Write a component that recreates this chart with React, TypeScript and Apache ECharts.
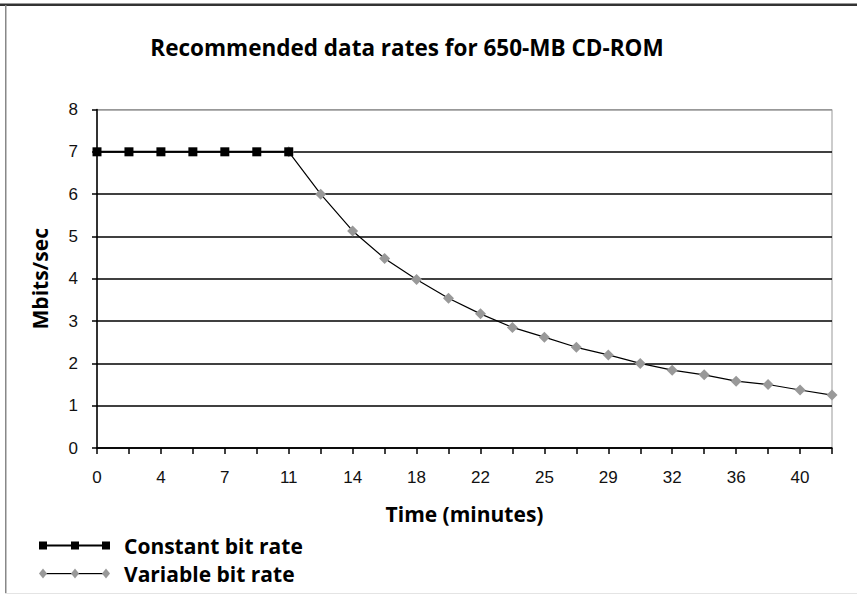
import React, { useEffect, useRef } from "react";
import * as echarts from "echarts";

const categories = ["0","2","4","5","7","9","11","13","14","16","18","20","22","23","25","27","29","31","32","34","36","38","40","41"];
const constantRate = [7, 7, 7, 7, 7, 7, 7, null, null, null, null, null, null, null, null, null, null, null, null, null, null, null, null, null];
const variableRate = [null, null, null, null, null, null, 7, 6.0, 5.13, 4.48, 3.98, 3.54, 3.17, 2.85, 2.62, 2.38, 2.2, 2.0, 1.84, 1.73, 1.58, 1.5, 1.37, 1.25];
const yTicks = [0, 1, 2, 3, 4, 5, 6, 7, 8];

const svgIcon = (kind: string) => {
  let body = "";
  if (kind === "rect") {
    body = `<rect x='7' y='5' width='29' height='2' fill='black'/><rect x='39' y='5' width='29' height='2' fill='black'/>` +
      `<rect x='0' y='2' width='8' height='8' fill='black'/><rect x='32' y='2' width='8' height='8' fill='black'/><rect x='63' y='2' width='8' height='8' fill='black'/>`;
  } else {
    body = `<rect x='5' y='5.5' width='30' height='1.2' fill='black'/><rect x='37' y='5.5' width='30' height='1.2' fill='black'/>` +
      `<polygon points='4,1 8,6 4,11 0,6' fill='#999'/><polygon points='36,1 40,6 36,11 32,6' fill='#999'/><polygon points='67,1 71,6 67,11 63,6' fill='#999'/>`;
  }
  const svg = `<svg xmlns='http://www.w3.org/2000/svg' width='71' height='12' viewBox='0 0 71 12'>${body}</svg>`;
  return "image://data:image/svg+xml;utf8," + svg.replace(/#/g, "%23");
};

export default function App() {
  const ref = useRef<HTMLDivElement>(null);
  useEffect(() => {
    if (!ref.current) return;
    const chart = echarts.init(ref.current, null, { renderer: "svg" });
    const labelFont = { fontFamily: "Liberation Sans", fontSize: 17, color: "#111" };
    const boldFont = { fontFamily: "Open Sans", fontWeight: "bold", fontSize: 21, color: "#000" };
    chart.setOption({
      animation: false,
      backgroundColor: "#fff",
      title: {
        text: "Recommended data rates for 650-MB CD-ROM",
        left: 402,
        top: 31,
        textAlign: "center",
        textStyle: { ...boldFont, fontSize: 22.5 },
      },
      grid: { left: 97, right: 25, top: 109.5, bottom: 148, show: true, borderColor: "#999", borderWidth: 1, backgroundColor: "transparent" },
      legend: {
        orient: "vertical",
        left: 39,
        top: 535,
        padding: 0,
        itemWidth: 71,
        itemHeight: 12,
        itemGap: 7,
        selectedMode: false,
        textStyle: { ...boldFont, lineHeight: 20, padding: [0, 0, 0, 9] },
        data: [
          { name: "Constant bit rate", icon: svgIcon("rect") },
          { name: "Variable bit rate", icon: svgIcon("diamond") },
        ],
      },
      xAxis: {
        type: "category",
        data: categories,
        boundaryGap: false,
        name: "Time (minutes)",
        nameLocation: "middle",
        nameGap: 55,
        nameTextStyle: boldFont,
        axisLine: { lineStyle: { color: "#000", width: 1.5 } },
        axisTick: { show: true, length: 6, interval: 0, lineStyle: { color: "#000", width: 1.5 } },
        axisLabel: { ...labelFont, interval: 1, margin: 21 },
        splitLine: { show: false },
      },
      yAxis: {
        type: "value",
        min: yTicks[0],
        max: yTicks[yTicks.length - 1],
        interval: 1,
        name: "Mbits/sec",
        nameLocation: "middle",
        nameGap: 47,
        nameTextStyle: boldFont,
        axisLine: { show: true, lineStyle: { color: "#000", width: 1.5 } },
        axisTick: { show: true, length: 5, lineStyle: { color: "#000", width: 1.5 } },
        axisLabel: { ...labelFont, margin: 19 },
        splitLine: { show: true, lineStyle: { color: ["#000", "#000", "#000", "#000", "#000", "#000", "#000", "#000", "#999"], width: 1.5 } },
      },
      series: [
        {
          name: "Variable bit rate",
          type: "line",
          data: variableRate,
          symbol: "diamond",
          symbolSize: 11,
          showAllSymbol: true,
          itemStyle: { color: "#999" },
          lineStyle: { color: "#000", width: 1.2 },
          z: 2,
        },
        {
          name: "Constant bit rate",
          type: "line",
          data: constantRate,
          symbol: "rect",
          symbolSize: 9,
          showAllSymbol: true,
          itemStyle: { color: "#000" },
          lineStyle: { color: "#000", width: 2 },
          z: 3,
        },
      ],
      graphic: [
        { type: "rect", shape: { x: 0, y: 3, width: 857, height: 1 }, style: { fill: "#999" } },
        { type: "rect", shape: { x: 0, y: 4, width: 857, height: 2 }, style: { fill: "#333" } },
        { type: "rect", shape: { x: 5, y: 5, width: 1.5, height: 588 }, style: { fill: "#888" } },
        { type: "rect", shape: { x: 5, y: 593, width: 852, height: 1 }, style: { fill: "#e4e4e4" } },
      ],
    });
    return () => chart.dispose();
  }, []);
  return <div ref={ref} style={{ position: "fixed", left: 0, top: 0, width: 857, height: 596 }} />;
}
